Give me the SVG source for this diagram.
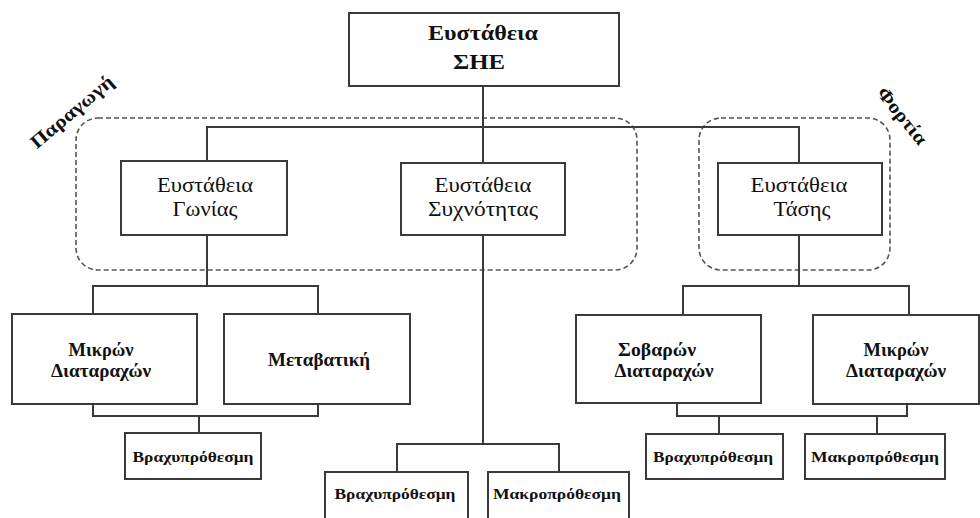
<svg xmlns="http://www.w3.org/2000/svg" width="980" height="518" viewBox="0 0 980 518">
<style>
.box{fill:#fff;stroke:#3a3a3a;stroke-width:2}
.ln{fill:none;stroke:#3a3a3a;stroke-width:2}
.grp{fill:none;stroke:#555;stroke-width:1.6;stroke-dasharray:5,3}
text{font-family:"Liberation Serif","DejaVu Serif",serif;fill:#111;text-anchor:middle}
.t1{font-size:22px;font-weight:bold}
.t2{font-size:21px}
.t3{font-size:18px;font-weight:bold}
.t4{font-size:15px;font-weight:bold}
.lab{font-size:19px;font-weight:bold}
</style>
<rect width="980" height="518" fill="#fff"/>
<g id="groups">
<rect class="grp" x="76" y="118" width="561" height="152" rx="22"/>
<rect class="grp" x="699" y="118" width="191" height="152" rx="22"/>
<text class="lab" transform="translate(72,112) rotate(-40)" dy="6" textLength="102" lengthAdjust="spacingAndGlyphs">Παραγωγή</text>
<text class="lab" transform="translate(902,116) rotate(51)" dy="6" textLength="68" lengthAdjust="spacingAndGlyphs">Φορτία</text>
</g>
<g id="connectors">
<polyline class="ln" points="483,86 483,163"/>
<polyline class="ln" points="207,161 207,127 799,127 799,163"/>
<polyline class="ln" points="207,235 207,286"/>
<polyline class="ln" points="93,314 93,286 318,286 318,314"/>
<polyline class="ln" points="93,404 93,416 318,416 318,404"/>
<polyline class="ln" points="199,416 199,433"/>
<polyline class="ln" points="483,235 483,444"/>
<polyline class="ln" points="397,472 397,444 559,444 559,472"/>
<polyline class="ln" points="799,235 799,286"/>
<polyline class="ln" points="683,315 683,286 909,286 909,315"/>
<polyline class="ln" points="677,403 677,416 907,416 907,404"/>
<polyline class="ln" points="719,416 719,434"/>
<polyline class="ln" points="877,416 877,434"/>
</g>
<g id="n-she">
<rect class="box" x="349" y="13" width="270" height="73"/>
<text class="t1" x="483" y="40" textLength="110" lengthAdjust="spacingAndGlyphs">Ευστάθεια</text>
<text class="t1" x="479" y="69" textLength="52" lengthAdjust="spacingAndGlyphs">ΣΗΕ</text>
</g>
<g id="n-gonias">
<rect class="box" x="121" y="161" width="166" height="74"/>
<text class="t2" x="205" y="192" textLength="96" lengthAdjust="spacingAndGlyphs">Ευστάθεια</text>
<text class="t2" x="205" y="216" textLength="65" lengthAdjust="spacingAndGlyphs">Γωνίας</text>
</g>
<g id="n-syxnotitas">
<rect class="box" x="401" y="163" width="164" height="72"/>
<text class="t2" x="483" y="192" textLength="97" lengthAdjust="spacingAndGlyphs">Ευστάθεια</text>
<text class="t2" x="483" y="216" textLength="110" lengthAdjust="spacingAndGlyphs">Συχνότητας</text>
</g>
<g id="n-tasis">
<rect class="box" x="718" y="163" width="164" height="72"/>
<text class="t2" x="799" y="192" textLength="97" lengthAdjust="spacingAndGlyphs">Ευστάθεια</text>
<text class="t2" x="802" y="216" textLength="57" lengthAdjust="spacingAndGlyphs">Τάσης</text>
</g>
<g id="n-mikron1">
<rect class="box" x="12" y="314" width="185" height="90"/>
<text class="t3" x="101" y="356" textLength="65" lengthAdjust="spacingAndGlyphs">Μικρών</text>
<text class="t3" x="101" y="377" textLength="100" lengthAdjust="spacingAndGlyphs">Διαταραχών</text>
</g>
<g id="n-metavatiki">
<rect class="box" x="224" y="314" width="186" height="90"/>
<text class="t3" x="319" y="366" textLength="102" lengthAdjust="spacingAndGlyphs">Μεταβατική</text>
</g>
<g id="n-vrax1">
<rect class="box" x="125" y="433" width="136" height="46"/>
<text class="t4" x="193" y="462" textLength="121" lengthAdjust="spacingAndGlyphs">Βραχυπρόθεσμη</text>
</g>
<g id="n-vrax2">
<rect class="box" x="325" y="472" width="143" height="56"/>
<text class="t4" x="395" y="499" textLength="121" lengthAdjust="spacingAndGlyphs">Βραχυπρόθεσμη</text>
</g>
<g id="n-makro1">
<rect class="box" x="488" y="472" width="141" height="56"/>
<text class="t4" x="557" y="499" textLength="128" lengthAdjust="spacingAndGlyphs">Μακροπρόθεσμη</text>
</g>
<g id="n-sovaron">
<rect class="box" x="576" y="315" width="185" height="88"/>
<text class="t3" x="657" y="356" textLength="78" lengthAdjust="spacingAndGlyphs">Σοβαρών</text>
<text class="t3" x="664" y="377" textLength="99" lengthAdjust="spacingAndGlyphs">Διαταραχών</text>
</g>
<g id="n-mikron2">
<rect class="box" x="813" y="315" width="166" height="89"/>
<text class="t3" x="896" y="356" textLength="65" lengthAdjust="spacingAndGlyphs">Μικρών</text>
<text class="t3" x="896" y="377" textLength="100" lengthAdjust="spacingAndGlyphs">Διαταραχών</text>
</g>
<g id="n-vrax3">
<rect class="box" x="646" y="434" width="137" height="45"/>
<text class="t4" x="713" y="462" textLength="120" lengthAdjust="spacingAndGlyphs">Βραχυπρόθεσμη</text>
</g>
<g id="n-makro2">
<rect class="box" x="805" y="434" width="140" height="45"/>
<text class="t4" x="875" y="462" textLength="128" lengthAdjust="spacingAndGlyphs">Μακροπρόθεσμη</text>
</g>
</svg>
